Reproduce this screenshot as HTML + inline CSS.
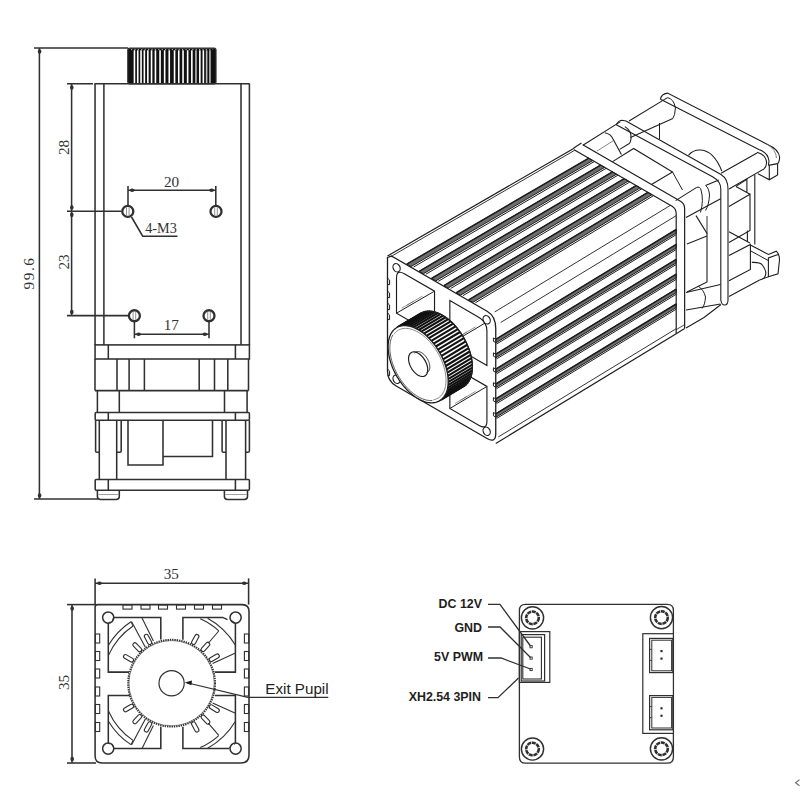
<!DOCTYPE html>
<html><head><meta charset="utf-8"><style>
html,body{margin:0;padding:0;background:#fff;}
svg{display:block;}
</style></head><body>
<svg width="800" height="800" viewBox="0 0 800 800">
<rect width="800" height="800" fill="#fff"/>
<line x1="34.00" y1="48.00" x2="128.00" y2="48.00" stroke="#303030" stroke-width="1.55" />
<line x1="39.40" y1="48.00" x2="39.40" y2="499.00" stroke="#303030" stroke-width="1.55" />
<ellipse cx="39.60" cy="51.50" rx="1.80" ry="2.34" fill="#303030"/>
<ellipse cx="39.60" cy="495.50" rx="1.80" ry="2.34" fill="#303030"/>
<line x1="34.00" y1="499.00" x2="98.00" y2="499.00" stroke="#303030" stroke-width="1.55" />
<text x="34" y="273" font-family="Liberation Serif" font-size="15.2" font-weight="normal" text-anchor="middle" fill="#333" transform="rotate(-90 34 273)" letter-spacing="1.6">99.6</text>
<line x1="67.00" y1="83.75" x2="93.00" y2="83.75" stroke="#303030" stroke-width="1.55" />
<line x1="71.60" y1="83.75" x2="71.60" y2="315.60" stroke="#303030" stroke-width="1.55" />
<ellipse cx="71.80" cy="87.50" rx="1.80" ry="2.34" fill="#303030"/>
<ellipse cx="71.80" cy="207.50" rx="1.80" ry="2.34" fill="#303030"/>
<ellipse cx="71.80" cy="214.80" rx="1.80" ry="2.34" fill="#303030"/>
<ellipse cx="71.80" cy="312.00" rx="1.80" ry="2.34" fill="#303030"/>
<line x1="67.00" y1="211.25" x2="121.50" y2="211.25" stroke="#303030" stroke-width="1.55" />
<line x1="67.00" y1="315.60" x2="128.00" y2="315.60" stroke="#303030" stroke-width="1.55" />
<text x="68.5" y="147.5" font-family="Liberation Serif" font-size="15.2" font-weight="normal" text-anchor="middle" fill="#333" transform="rotate(-90 68.5 147.5)" >28</text>
<text x="68.5" y="262" font-family="Liberation Serif" font-size="15.2" font-weight="normal" text-anchor="middle" fill="#333" transform="rotate(-90 68.5 262)" >23</text>
<rect x="127.80" y="48.20" width="88.20" height="35.60" rx="2" stroke="#303030" stroke-width="1.2" fill="#111"/>
<rect x="133.65" y="50.3" width="1.6" height="33" fill="#fff"/>
<rect x="136.95" y="50.3" width="1.6" height="33" fill="#fff"/>
<rect x="140.25" y="50.3" width="1.6" height="33" fill="#fff"/>
<rect x="143.55" y="50.3" width="1.6" height="33" fill="#fff"/>
<rect x="147.05" y="50.3" width="1.6" height="33" fill="#fff"/>
<rect x="150.75" y="50.3" width="1.6" height="33" fill="#fff"/>
<rect x="154.65" y="50.3" width="1.6" height="33" fill="#fff"/>
<rect x="159.25" y="50.3" width="1.6" height="33" fill="#fff"/>
<rect x="163.85" y="50.3" width="1.6" height="33" fill="#fff"/>
<rect x="168.45" y="50.3" width="1.6" height="33" fill="#fff"/>
<rect x="173.75" y="50.3" width="1.6" height="33" fill="#fff"/>
<rect x="177.95" y="50.3" width="1.6" height="33" fill="#fff"/>
<rect x="182.25" y="50.3" width="1.6" height="33" fill="#fff"/>
<rect x="186.85" y="50.3" width="1.6" height="33" fill="#fff"/>
<rect x="191.05" y="50.3" width="1.6" height="33" fill="#fff"/>
<rect x="195.15" y="50.3" width="1.6" height="33" fill="#bbb"/>
<rect x="199.05" y="50.3" width="1.6" height="33" fill="#fff"/>
<rect x="202.55" y="50.3" width="1.6" height="33" fill="#fff"/>
<rect x="205.85" y="50.3" width="1.6" height="33" fill="#bbb"/>
<rect x="209.15" y="50.3" width="1.6" height="33" fill="#bbb"/>
<line x1="131" y1="49.6" x2="213" y2="49.6" stroke="#fff" stroke-width="0.7" stroke-dasharray="1.2 2.2"/>
<line x1="94.40" y1="83.75" x2="249.70" y2="83.75" stroke="#303030" stroke-width="1.55" />
<line x1="95.05" y1="83.75" x2="95.05" y2="344.90" stroke="#303030" stroke-width="1.55" />
<line x1="249.40" y1="83.75" x2="249.40" y2="344.90" stroke="#303030" stroke-width="1.55" />
<line x1="103.90" y1="83.75" x2="103.90" y2="344.90" stroke="#303030" stroke-width="1.55" />
<line x1="241.00" y1="83.75" x2="241.00" y2="344.90" stroke="#303030" stroke-width="1.55" />
<circle cx="127.80" cy="211.40" r="5.50" stroke="#303030" stroke-width="2.3" fill="none"/>
<line x1="126.50" y1="207.40" x2="126.50" y2="215.40" stroke="#666" stroke-width="0.7" />
<line x1="129.10" y1="207.40" x2="129.10" y2="215.40" stroke="#666" stroke-width="0.7" />
<circle cx="216.00" cy="211.40" r="5.50" stroke="#303030" stroke-width="2.3" fill="none"/>
<line x1="214.70" y1="207.40" x2="214.70" y2="215.40" stroke="#666" stroke-width="0.7" />
<line x1="217.30" y1="207.40" x2="217.30" y2="215.40" stroke="#666" stroke-width="0.7" />
<circle cx="134.40" cy="315.75" r="5.50" stroke="#303030" stroke-width="2.3" fill="none"/>
<line x1="133.10" y1="311.75" x2="133.10" y2="319.75" stroke="#666" stroke-width="0.7" />
<line x1="135.70" y1="311.75" x2="135.70" y2="319.75" stroke="#666" stroke-width="0.7" />
<circle cx="209.00" cy="315.75" r="5.50" stroke="#303030" stroke-width="2.3" fill="none"/>
<line x1="207.70" y1="311.75" x2="207.70" y2="319.75" stroke="#666" stroke-width="0.7" />
<line x1="210.30" y1="311.75" x2="210.30" y2="319.75" stroke="#666" stroke-width="0.7" />
<line x1="128.00" y1="186.00" x2="128.00" y2="205.50" stroke="#303030" stroke-width="1.55" />
<line x1="215.80" y1="186.00" x2="215.80" y2="205.50" stroke="#303030" stroke-width="1.55" />
<line x1="128.00" y1="190.30" x2="215.80" y2="190.30" stroke="#303030" stroke-width="1.55" />
<ellipse cx="132.20" cy="190.30" rx="2.34" ry="1.80" fill="#303030"/>
<ellipse cx="211.60" cy="190.30" rx="2.34" ry="1.80" fill="#303030"/>
<text x="171.5" y="186.7" font-family="Liberation Serif" font-size="15.2" font-weight="normal" text-anchor="middle" fill="#333" >20</text>
<path d="M131.50,217.00 L142.70,236.20 L177.50,236.20" stroke="#303030" stroke-width="1.55" fill="none" />
<text x="161" y="232.7" font-family="Liberation Serif" font-size="14.2" font-weight="normal" text-anchor="middle" fill="#333" >4-M3</text>
<line x1="134.40" y1="322.00" x2="134.40" y2="338.30" stroke="#303030" stroke-width="1.55" />
<line x1="209.00" y1="322.00" x2="209.00" y2="338.30" stroke="#303030" stroke-width="1.55" />
<line x1="134.40" y1="334.20" x2="209.00" y2="334.20" stroke="#303030" stroke-width="1.55" />
<ellipse cx="138.60" cy="334.20" rx="2.34" ry="1.80" fill="#303030"/>
<ellipse cx="204.80" cy="334.20" rx="2.34" ry="1.80" fill="#303030"/>
<text x="171.3" y="329.7" font-family="Liberation Serif" font-size="15.2" font-weight="normal" text-anchor="middle" fill="#333" >17</text>
<rect x="95.05" y="344.90" width="154.35" height="14.10" rx="0" stroke="#303030" stroke-width="1.55" fill="none"/>
<line x1="108.30" y1="344.90" x2="108.30" y2="359.00" stroke="#303030" stroke-width="1.55" />
<line x1="235.40" y1="344.90" x2="235.40" y2="359.00" stroke="#303030" stroke-width="1.55" />
<line x1="95.00" y1="359.00" x2="95.00" y2="390.60" stroke="#303030" stroke-width="1.55" />
<line x1="248.50" y1="359.00" x2="248.50" y2="390.60" stroke="#303030" stroke-width="1.55" />
<line x1="117.00" y1="359.00" x2="117.00" y2="390.60" stroke="#303030" stroke-width="1.55" />
<line x1="129.10" y1="359.00" x2="129.10" y2="390.60" stroke="#303030" stroke-width="1.55" />
<line x1="144.40" y1="359.00" x2="144.40" y2="390.60" stroke="#303030" stroke-width="1.55" />
<line x1="199.20" y1="359.00" x2="199.20" y2="390.60" stroke="#303030" stroke-width="1.55" />
<line x1="214.50" y1="359.00" x2="214.50" y2="390.60" stroke="#303030" stroke-width="1.55" />
<line x1="227.80" y1="359.00" x2="227.80" y2="390.60" stroke="#303030" stroke-width="1.55" />
<line x1="95.00" y1="390.60" x2="248.50" y2="390.60" stroke="#303030" stroke-width="1.55" />
<line x1="97.40" y1="390.60" x2="97.40" y2="412.40" stroke="#303030" stroke-width="1.55" />
<line x1="247.10" y1="390.60" x2="247.10" y2="412.40" stroke="#303030" stroke-width="1.55" />
<line x1="119.30" y1="390.60" x2="119.30" y2="412.40" stroke="#303030" stroke-width="1.55" />
<line x1="224.50" y1="390.60" x2="224.50" y2="412.40" stroke="#303030" stroke-width="1.55" />
<rect x="95.20" y="412.50" width="154.20" height="7.80" rx="1" stroke="#303030" stroke-width="1.55" fill="none"/>
<line x1="108.30" y1="412.50" x2="108.30" y2="420.30" stroke="#303030" stroke-width="1.55" />
<line x1="235.40" y1="412.50" x2="235.40" y2="420.30" stroke="#303030" stroke-width="1.55" />
<path d="M95.6,420.3 V451 Q95.6,452.3 97,452.3 H99.3 M99.3,420.3 V479.5" stroke="#303030" stroke-width="1.55" fill="none" />
<path d="M116.7,479.5 V420.3 M116.7,452.3 H119.8 Q121.2,452.3 121.2,451 V420.3" stroke="#303030" stroke-width="1.55" fill="none" />
<path d="M128.00,420.30 L128.00,465.00 L163.00,465.00 L163.00,420.30" stroke="#303030" stroke-width="1.55" fill="none" />
<path d="M163.00,456.50 L212.50,456.50 L212.50,420.30" stroke="#303030" stroke-width="1.55" fill="none" />
<path d="M226,479.5 V420.3 M226,452.3 H223.4 Q222.1,452.3 222.1,451 V420.3" stroke="#303030" stroke-width="1.55" fill="none" />
<path d="M249.4,420.3 V451 Q249.4,452.3 248,452.3 H245.6 V479.5 M245.6,452.3 V420.3" stroke="#303030" stroke-width="1.55" fill="none" />
<rect x="95.20" y="479.50" width="154.20" height="10.80" rx="1" stroke="#303030" stroke-width="1.55" fill="none"/>
<line x1="108.30" y1="479.50" x2="108.30" y2="490.30" stroke="#303030" stroke-width="1.55" />
<line x1="235.40" y1="479.50" x2="235.40" y2="490.30" stroke="#303030" stroke-width="1.55" />
<path d="M97.4,490.3 V496.5 Q97.4,499.4 100.5,499.4 H116.2 Q119.3,499.4 119.3,496.5 V490.3" stroke="#303030" stroke-width="1.55" fill="none" />
<path d="M224.4,490.3 V496.5 Q224.4,499.4 227.5,499.4 H244.4 Q247.5,499.4 247.5,496.5 V490.3" stroke="#303030" stroke-width="1.55" fill="none" />
<line x1="98.50" y1="494.50" x2="118.30" y2="494.50" stroke="#888" stroke-width="0.8" />
<line x1="225.50" y1="494.50" x2="246.50" y2="494.50" stroke="#888" stroke-width="0.8" />
<line x1="95.10" y1="578.40" x2="95.10" y2="604.60" stroke="#303030" stroke-width="1.55" />
<line x1="248.60" y1="578.40" x2="248.60" y2="604.60" stroke="#303030" stroke-width="1.55" />
<line x1="95.10" y1="583.30" x2="248.60" y2="583.30" stroke="#303030" stroke-width="1.55" />
<ellipse cx="99.50" cy="583.30" rx="2.34" ry="1.80" fill="#303030"/>
<ellipse cx="244.20" cy="583.30" rx="2.34" ry="1.80" fill="#303030"/>
<text x="171.3" y="579.3" font-family="Liberation Serif" font-size="15.2" font-weight="normal" text-anchor="middle" fill="#333" >35</text>
<line x1="67.00" y1="604.60" x2="96.00" y2="604.60" stroke="#303030" stroke-width="1.55" />
<line x1="67.00" y1="763.00" x2="96.00" y2="763.00" stroke="#303030" stroke-width="1.55" />
<line x1="72.00" y1="604.60" x2="72.00" y2="763.00" stroke="#303030" stroke-width="1.55" />
<ellipse cx="72.20" cy="608.50" rx="1.80" ry="2.34" fill="#303030"/>
<ellipse cx="72.20" cy="759.00" rx="1.80" ry="2.34" fill="#303030"/>
<text x="68.5" y="682.5" font-family="Liberation Serif" font-size="15.2" font-weight="normal" text-anchor="middle" fill="#333" transform="rotate(-90 68.5 682.5)" >35</text>
<path d="M95.1,607 Q95.1,604.6 97.5,604.6 H242.2 Q249,604.6 249,611.4 V755 Q249,763 241,763 H102.1 Q95.1,763 95.1,756 Z" stroke="#303030" stroke-width="1.55" fill="none" />
<rect x="123.00" y="604.90" width="9.00" height="4.20" rx="0" stroke="#303030" stroke-width="1.1" fill="none"/>
<rect x="141.00" y="604.90" width="9.00" height="4.20" rx="0" stroke="#303030" stroke-width="1.1" fill="none"/>
<rect x="158.50" y="604.90" width="9.00" height="4.20" rx="0" stroke="#303030" stroke-width="1.1" fill="none"/>
<rect x="176.50" y="604.90" width="9.00" height="4.20" rx="0" stroke="#303030" stroke-width="1.1" fill="none"/>
<rect x="194.50" y="604.90" width="9.00" height="4.20" rx="0" stroke="#303030" stroke-width="1.1" fill="none"/>
<rect x="212.50" y="604.90" width="9.00" height="4.20" rx="0" stroke="#303030" stroke-width="1.1" fill="none"/>
<rect x="95.40" y="634.00" width="4.30" height="9.00" rx="0" stroke="#303030" stroke-width="1.1" fill="none"/>
<rect x="244.40" y="634.00" width="4.30" height="9.00" rx="0" stroke="#303030" stroke-width="1.1" fill="none"/>
<rect x="95.40" y="651.50" width="4.30" height="9.00" rx="0" stroke="#303030" stroke-width="1.1" fill="none"/>
<rect x="244.40" y="651.50" width="4.30" height="9.00" rx="0" stroke="#303030" stroke-width="1.1" fill="none"/>
<rect x="95.40" y="669.00" width="4.30" height="9.00" rx="0" stroke="#303030" stroke-width="1.1" fill="none"/>
<rect x="244.40" y="669.00" width="4.30" height="9.00" rx="0" stroke="#303030" stroke-width="1.1" fill="none"/>
<rect x="95.40" y="687.00" width="4.30" height="9.00" rx="0" stroke="#303030" stroke-width="1.1" fill="none"/>
<rect x="244.40" y="687.00" width="4.30" height="9.00" rx="0" stroke="#303030" stroke-width="1.1" fill="none"/>
<rect x="95.40" y="704.50" width="4.30" height="9.00" rx="0" stroke="#303030" stroke-width="1.1" fill="none"/>
<rect x="244.40" y="704.50" width="4.30" height="9.00" rx="0" stroke="#303030" stroke-width="1.1" fill="none"/>
<rect x="95.40" y="722.50" width="4.30" height="9.00" rx="0" stroke="#303030" stroke-width="1.1" fill="none"/>
<rect x="244.40" y="722.50" width="4.30" height="9.00" rx="0" stroke="#303030" stroke-width="1.1" fill="none"/>
<circle cx="108.20" cy="617.60" r="5.60" stroke="#303030" stroke-width="1.5" fill="none"/>
<circle cx="235.60" cy="617.60" r="5.60" stroke="#303030" stroke-width="1.5" fill="none"/>
<circle cx="108.20" cy="748.60" r="5.60" stroke="#303030" stroke-width="1.5" fill="none"/>
<circle cx="235.60" cy="748.60" r="5.60" stroke="#303030" stroke-width="1.5" fill="none"/>
<path d="M113,617.4 H160.8 V639.5" stroke="#303030" stroke-width="1.55" fill="none" />
<path d="M108.3,623 V672.1 H129" stroke="#303030" stroke-width="1.55" fill="none" />
<path d="M182.9,639.7 V617.4 H222.7 L227.5,619.6" stroke="#303030" stroke-width="1.55" fill="none" />
<path d="M235.4,623 V672.1 H214.8" stroke="#303030" stroke-width="1.55" fill="none" />
<path d="M108.3,743.4 V695.4 H129.8" stroke="#303030" stroke-width="1.55" fill="none" />
<path d="M160.8,726.7 V748.4 H114" stroke="#303030" stroke-width="1.55" fill="none" />
<path d="M182.9,726.7 V748.4 H229" stroke="#303030" stroke-width="1.55" fill="none" />
<path d="M235.4,743.4 V695.4 H214.8" stroke="#303030" stroke-width="1.55" fill="none" />
<circle cx="171.6" cy="683.2" r="43.4" stroke="#303030" stroke-width="2.0" fill="none" stroke-dasharray="1.4 0.9"/>
<circle cx="171.60" cy="683.20" r="42.60" stroke="#555" stroke-width="0.6" fill="none"/>
<circle cx="171.60" cy="683.20" r="12.60" stroke="#303030" stroke-width="1.2" fill="none"/>
<rect x="215.80" y="681.20" width="11" height="4" rx="2" stroke="#303030" stroke-width="1.1" fill="#fff" transform="rotate(-150 171.6 683.2)"/>
<rect x="215.80" y="681.20" width="11" height="4" rx="2" stroke="#303030" stroke-width="1.1" fill="#fff" transform="rotate(-133.7 171.6 683.2)"/>
<rect x="215.80" y="681.20" width="11" height="4" rx="2" stroke="#303030" stroke-width="1.1" fill="#fff" transform="rotate(-118.3 171.6 683.2)"/>
<rect x="215.80" y="681.20" width="11" height="4" rx="2" stroke="#303030" stroke-width="1.1" fill="#fff" transform="rotate(-61.6 171.6 683.2)"/>
<rect x="215.80" y="681.20" width="11" height="4" rx="2" stroke="#303030" stroke-width="1.1" fill="#fff" transform="rotate(-47 171.6 683.2)"/>
<rect x="215.80" y="681.20" width="11" height="4" rx="2" stroke="#303030" stroke-width="1.1" fill="#fff" transform="rotate(-30.8 171.6 683.2)"/>
<rect x="215.80" y="681.20" width="11" height="4" rx="2" stroke="#303030" stroke-width="1.1" fill="#fff" transform="rotate(30.8 171.6 683.2)"/>
<rect x="215.80" y="681.20" width="11" height="4" rx="2" stroke="#303030" stroke-width="1.1" fill="#fff" transform="rotate(47 171.6 683.2)"/>
<rect x="215.80" y="681.20" width="11" height="4" rx="2" stroke="#303030" stroke-width="1.1" fill="#fff" transform="rotate(61.6 171.6 683.2)"/>
<rect x="215.80" y="681.20" width="11" height="4" rx="2" stroke="#303030" stroke-width="1.1" fill="#fff" transform="rotate(118.3 171.6 683.2)"/>
<rect x="215.80" y="681.20" width="11" height="4" rx="2" stroke="#303030" stroke-width="1.1" fill="#fff" transform="rotate(133.7 171.6 683.2)"/>
<rect x="215.80" y="681.20" width="11" height="4" rx="2" stroke="#303030" stroke-width="1.1" fill="#fff" transform="rotate(150 171.6 683.2)"/>
<path d="M108.43,645.24 A73.7,73.7 0 0 1 130.92,621.74" stroke="#303030" stroke-width="1.1" fill="none" />
<path d="M108.57,655.14 A69,69 0 0 1 133.02,626.00" stroke="#303030" stroke-width="1.1" fill="none" />
<path d="M130.92,621.74 L133.02,626.00" stroke="#303030" stroke-width="1.0" fill="none" />
<path d="M131.50,621.40 L145.50,647.60" stroke="#303030" stroke-width="1.1" fill="none" />
<path d="M142.00,617.90 L153.40,641.00" stroke="#303030" stroke-width="1.1" fill="none" />
<path d="M207.62,618.22 A74.3,74.3 0 0 1 235.29,644.93" stroke="#303030" stroke-width="1.1" fill="none" />
<path d="M200.27,618.80 A70.5,70.5 0 0 1 218.77,630.81" stroke="#303030" stroke-width="1.1" fill="none" />
<path d="M218.75,631.00 L208.25,643.25" stroke="#303030" stroke-width="1.1" fill="none" />
<path d="M234.90,653.30 L212.60,663.40" stroke="#303030" stroke-width="1.1" fill="none" />
<path d="M108.43,721.16 A73.7,73.7 0 0 0 130.92,744.66" stroke="#303030" stroke-width="1.1" fill="none" />
<path d="M108.57,711.26 A69,69 0 0 0 133.02,740.40" stroke="#303030" stroke-width="1.1" fill="none" />
<path d="M130.92,744.66 L133.02,740.40" stroke="#303030" stroke-width="1.0" fill="none" />
<path d="M131.50,745.00 L145.50,718.80" stroke="#303030" stroke-width="1.1" fill="none" />
<path d="M142.00,748.50 L153.40,725.40" stroke="#303030" stroke-width="1.1" fill="none" />
<path d="M207.62,748.18 A74.3,74.3 0 0 0 235.29,721.47" stroke="#303030" stroke-width="1.1" fill="none" />
<path d="M200.27,747.60 A70.5,70.5 0 0 0 218.77,735.59" stroke="#303030" stroke-width="1.1" fill="none" />
<path d="M218.75,735.40 L208.25,723.15" stroke="#303030" stroke-width="1.1" fill="none" />
<path d="M234.90,713.10 L212.60,703.00" stroke="#303030" stroke-width="1.1" fill="none" />
<path d="M112.50,620.50 L113.50,617.40" stroke="#303030" stroke-width="1.0" fill="none" />
<path d="M108.30,623.00 L109.50,622.00" stroke="#303030" stroke-width="1.0" fill="none" />
<path d="M231.00,620.20 L235.40,623.00" stroke="#303030" stroke-width="1.0" fill="none" />
<path d="M112.50,745.50 L114.00,748.40" stroke="#303030" stroke-width="1.0" fill="none" />
<path d="M108.30,743.40 L109.50,744.00" stroke="#303030" stroke-width="1.0" fill="none" />
<path d="M231.00,746.00 L229.00,748.40" stroke="#303030" stroke-width="1.0" fill="none" />
<path d="M235.40,743.40 L234.00,744.50" stroke="#303030" stroke-width="1.0" fill="none" />
<path d="M328.30,697.40 L247.75,697.40 L187.00,682.80" stroke="#303030" stroke-width="1.1" fill="none" />
<path d="M184.8,682.5 L192,680.6 L191.4,685.2 Z" fill="#1a1a1a"/>
<text x="265.3" y="693.8" font-family="Liberation Sans" font-size="15.2" font-weight="normal" text-anchor="start" fill="#222" >Exit Pupil</text>
<path d="M519.4,610.5 Q519.4,604.4 525.5,604.4 H667.3 Q673.4,604.4 673.4,610.5 V757 Q673.4,763.2 667.3,763.2 H525.5 Q519.4,763.2 519.4,757 Z" stroke="#303030" stroke-width="1.3" fill="none" />
<circle cx="532.50" cy="617.80" r="11.10" stroke="#303030" stroke-width="1.45" fill="none"/>
<circle cx="532.5" cy="617.8" r="6.3" stroke="#303030" stroke-width="2.6" fill="none" stroke-dasharray="4 0.7"/>
<circle cx="661.50" cy="617.60" r="11.10" stroke="#303030" stroke-width="1.45" fill="none"/>
<circle cx="661.5" cy="617.6" r="6.3" stroke="#303030" stroke-width="2.6" fill="none" stroke-dasharray="4 0.7"/>
<circle cx="532.50" cy="749.00" r="11.10" stroke="#303030" stroke-width="1.45" fill="none"/>
<circle cx="532.5" cy="749" r="6.3" stroke="#303030" stroke-width="2.6" fill="none" stroke-dasharray="4 0.7"/>
<circle cx="661.50" cy="748.80" r="11.10" stroke="#303030" stroke-width="1.45" fill="none"/>
<circle cx="661.5" cy="748.8" r="6.3" stroke="#303030" stroke-width="2.6" fill="none" stroke-dasharray="4 0.7"/>
<rect x="519.40" y="631.60" width="30.40" height="50.80" rx="0" stroke="#303030" stroke-width="1.2" fill="#fff"/>
<rect x="521.20" y="634.60" width="23.40" height="46.40" rx="0" stroke="#303030" stroke-width="1.2" fill="none"/>
<rect x="522.80" y="637.20" width="18.60" height="41.80" rx="0" stroke="#303030" stroke-width="1.1" fill="none"/>
<rect x="530.00" y="645.60" width="2.20" height="2.20" rx="0" stroke="#303030" stroke-width="0.9" fill="none"/>
<rect x="530.00" y="657.00" width="2.20" height="2.20" rx="0" stroke="#303030" stroke-width="0.9" fill="none"/>
<rect x="530.00" y="668.40" width="2.20" height="2.20" rx="0" stroke="#303030" stroke-width="0.9" fill="none"/>
<rect x="642.80" y="633.70" width="30.60" height="99.70" rx="0" stroke="#303030" stroke-width="1.2" fill="#fff"/>
<rect x="649.60" y="638.40" width="23.20" height="34.20" rx="0" stroke="#303030" stroke-width="1.2" fill="none"/>
<rect x="651.80" y="640.20" width="19.80" height="30.60" rx="0" stroke="#303030" stroke-width="1.0" fill="none"/>
<line x1="649.60" y1="649.40" x2="651.80" y2="649.40" stroke="#303030" stroke-width="0.9" />
<line x1="649.60" y1="660.40" x2="651.80" y2="660.40" stroke="#303030" stroke-width="0.9" />
<rect x="660.40" y="650.00" width="2.20" height="2.20" rx="0" stroke="#303030" stroke-width="0" fill="#303030"/>
<rect x="660.40" y="657.50" width="2.20" height="2.20" rx="0" stroke="#303030" stroke-width="0" fill="#303030"/>
<rect x="649.60" y="695.60" width="23.20" height="34.20" rx="0" stroke="#303030" stroke-width="1.2" fill="none"/>
<rect x="651.80" y="697.40" width="19.80" height="30.60" rx="0" stroke="#303030" stroke-width="1.0" fill="none"/>
<line x1="649.60" y1="706.60" x2="651.80" y2="706.60" stroke="#303030" stroke-width="0.9" />
<line x1="649.60" y1="717.60" x2="651.80" y2="717.60" stroke="#303030" stroke-width="0.9" />
<rect x="660.40" y="707.20" width="2.20" height="2.20" rx="0" stroke="#303030" stroke-width="0" fill="#303030"/>
<rect x="660.40" y="714.70" width="2.20" height="2.20" rx="0" stroke="#303030" stroke-width="0" fill="#303030"/>
<text x="482" y="608.4" font-family="Liberation Sans" font-size="12.4" font-weight="bold" text-anchor="end" fill="#1e1e1e" >DC 12V</text>
<text x="482" y="632.4" font-family="Liberation Sans" font-size="12.4" font-weight="bold" text-anchor="end" fill="#1e1e1e" >GND</text>
<text x="483" y="661.4" font-family="Liberation Sans" font-size="12.4" font-weight="bold" text-anchor="end" fill="#1e1e1e" >5V PWM</text>
<text x="481" y="701" font-family="Liberation Sans" font-size="12.4" font-weight="bold" text-anchor="end" fill="#1e1e1e" >XH2.54 3PIN</text>
<path d="M488.00,604.40 L500.00,604.40 L530.50,646.00" stroke="#303030" stroke-width="1.3" fill="none" />
<path d="M488.00,627.00 L500.00,627.00 L530.50,657.50" stroke="#303030" stroke-width="1.3" fill="none" />
<path d="M488.00,658.00 L501.00,658.00 L530.50,669.00" stroke="#303030" stroke-width="1.3" fill="none" />
<path d="M488.00,697.60 L498.00,697.60 L518.50,678.00" stroke="#303030" stroke-width="1.3" fill="none" />
<path d="M799.5,779.8 L795.6,782.8 L799.5,785.8" stroke="#777" stroke-width="1.3" fill="none"/>
<path d="M387.50,256.00 L572.82,149.00" stroke="#1e1e1e" stroke-width="1.2" fill="none" />
<path d="M392.26,255.75 L574.89,150.19" stroke="#1e1e1e" stroke-width="0.9" fill="none" />
<path d="M495.75,443.50 L676.20,333.69" stroke="#1e1e1e" stroke-width="1.2" fill="none" />
<path d="M498.28,436.96 L676.20,328.69" stroke="#1e1e1e" stroke-width="0.9" fill="none" />
<path d="M494.76,311.93 L670.41,205.34" stroke="#1e1e1e" stroke-width="0.9" fill="none" />
<path d="M500.81,322.42 L676.20,215.69" stroke="#1e1e1e" stroke-width="0.9" fill="none" />
<path d="M406.80,264.14 L588.79,158.22 L592.84,160.56 L411.04,266.59 Z" stroke="#1e1e1e" stroke-width="1.0" fill="#6e6e6e" />
<path d="M406.80,264.14 L588.79,158.22" stroke="#1e1e1e" stroke-width="1.5" fill="none" />
<path d="M413.55,267.04 L594.41,161.46" stroke="#1e1e1e" stroke-width="1.0" fill="none" />
<path d="M419.18,271.29 L600.61,165.04 L604.66,167.38 L423.42,273.74 Z" stroke="#1e1e1e" stroke-width="1.0" fill="#6e6e6e" />
<path d="M419.18,271.29 L600.61,165.04" stroke="#1e1e1e" stroke-width="1.5" fill="none" />
<path d="M425.92,274.18 L606.24,168.29" stroke="#1e1e1e" stroke-width="1.0" fill="none" />
<path d="M431.55,278.43 L612.44,171.87 L616.49,174.21 L435.79,280.88 Z" stroke="#1e1e1e" stroke-width="1.0" fill="#6e6e6e" />
<path d="M431.55,278.43 L612.44,171.87" stroke="#1e1e1e" stroke-width="1.5" fill="none" />
<path d="M438.29,281.33 L618.06,175.12" stroke="#1e1e1e" stroke-width="1.0" fill="none" />
<path d="M443.93,285.58 L624.27,178.70 L628.32,181.04 L448.17,288.03 Z" stroke="#1e1e1e" stroke-width="1.0" fill="#6e6e6e" />
<path d="M443.93,285.58 L624.27,178.70" stroke="#1e1e1e" stroke-width="1.5" fill="none" />
<path d="M450.67,288.47 L629.89,181.95" stroke="#1e1e1e" stroke-width="1.0" fill="none" />
<path d="M456.31,292.73 L636.09,185.53 L640.14,187.87 L460.55,295.17 Z" stroke="#1e1e1e" stroke-width="1.0" fill="#6e6e6e" />
<path d="M456.31,292.73 L636.09,185.53" stroke="#1e1e1e" stroke-width="1.5" fill="none" />
<path d="M463.04,295.61 L641.72,188.78" stroke="#1e1e1e" stroke-width="1.0" fill="none" />
<path d="M468.68,299.87 L647.92,192.36 L651.97,194.70 L472.92,302.32 Z" stroke="#1e1e1e" stroke-width="1.0" fill="#6e6e6e" />
<path d="M468.68,299.87 L647.92,192.36" stroke="#1e1e1e" stroke-width="1.5" fill="none" />
<path d="M475.41,302.76 L653.54,195.60" stroke="#1e1e1e" stroke-width="1.0" fill="none" />
<path d="M495.75,339.30 L676.20,229.49 L676.20,233.09 L495.75,342.90 Z" stroke="#1e1e1e" stroke-width="1.0" fill="#6e6e6e" />
<path d="M495.75,339.30 L676.20,229.49" stroke="#1e1e1e" stroke-width="1.5" fill="none" />
<path d="M496.59,343.99 L676.20,234.69" stroke="#1e1e1e" stroke-width="1.0" fill="none" />
<path d="M495.75,354.20 L676.20,244.39 L676.20,247.99 L495.75,357.80 Z" stroke="#1e1e1e" stroke-width="1.0" fill="#6e6e6e" />
<path d="M495.75,354.20 L676.20,244.39" stroke="#1e1e1e" stroke-width="1.5" fill="none" />
<path d="M496.59,358.89 L676.20,249.59" stroke="#1e1e1e" stroke-width="1.0" fill="none" />
<path d="M495.75,369.10 L676.20,259.29 L676.20,262.89 L495.75,372.70 Z" stroke="#1e1e1e" stroke-width="1.0" fill="#6e6e6e" />
<path d="M495.75,369.10 L676.20,259.29" stroke="#1e1e1e" stroke-width="1.5" fill="none" />
<path d="M496.59,373.79 L676.20,264.49" stroke="#1e1e1e" stroke-width="1.0" fill="none" />
<path d="M495.75,384.00 L676.20,274.19 L676.20,277.79 L495.75,387.60 Z" stroke="#1e1e1e" stroke-width="1.0" fill="#6e6e6e" />
<path d="M495.75,384.00 L676.20,274.19" stroke="#1e1e1e" stroke-width="1.5" fill="none" />
<path d="M496.59,388.69 L676.20,279.39" stroke="#1e1e1e" stroke-width="1.0" fill="none" />
<path d="M495.75,398.90 L676.20,289.09 L676.20,292.69 L495.75,402.50 Z" stroke="#1e1e1e" stroke-width="1.0" fill="#6e6e6e" />
<path d="M495.75,398.90 L676.20,289.09" stroke="#1e1e1e" stroke-width="1.5" fill="none" />
<path d="M496.59,403.59 L676.20,294.29" stroke="#1e1e1e" stroke-width="1.0" fill="none" />
<path d="M495.75,413.80 L676.20,303.99 L676.20,307.59 L495.75,417.40 Z" stroke="#1e1e1e" stroke-width="1.0" fill="#6e6e6e" />
<path d="M495.75,413.80 L676.20,303.99" stroke="#1e1e1e" stroke-width="1.5" fill="none" />
<path d="M496.59,418.49 L676.20,309.19" stroke="#1e1e1e" stroke-width="1.0" fill="none" />
<path d="M387.50,257.50 L391.40,256.05 L487.09,311.30 Q495.75,316.30 495.75,328.50 L495.75,433.50 Q495.75,443.50 487.09,438.50 L396.16,386.00 Q387.50,381.00 387.50,371.00 Z" stroke="#1e1e1e" stroke-width="1.3" fill="#fff" />
<path d="M387.50,278.00 L389.58,280.00 L389.58,284.70 L387.50,284.30" stroke="#1e1e1e" stroke-width="1.0" fill="none" />
<path d="M387.50,291.00 L389.58,293.00 L389.58,297.70 L387.50,297.30" stroke="#1e1e1e" stroke-width="1.0" fill="none" />
<path d="M387.50,303.00 L389.58,305.00 L389.58,309.70 L387.50,309.30" stroke="#1e1e1e" stroke-width="1.0" fill="none" />
<path d="M387.50,313.00 L389.58,315.00 L389.58,319.70 L387.50,319.30" stroke="#1e1e1e" stroke-width="1.0" fill="none" />
<path d="M387.50,369.00 L389.58,371.00 L389.58,375.70 L387.50,375.30" stroke="#1e1e1e" stroke-width="1.0" fill="none" />
<path d="M495.75,339.30 L493.41,337.95 L493.41,341.25 L495.75,342.60" stroke="#1e1e1e" stroke-width="1.0" fill="none" />
<path d="M495.75,354.20 L493.41,352.85 L493.41,356.15 L495.75,357.50" stroke="#1e1e1e" stroke-width="1.0" fill="none" />
<path d="M495.75,369.10 L493.41,367.75 L493.41,371.05 L495.75,372.40" stroke="#1e1e1e" stroke-width="1.0" fill="none" />
<path d="M495.75,384.00 L493.41,382.65 L493.41,385.95 L495.75,387.30" stroke="#1e1e1e" stroke-width="1.0" fill="none" />
<path d="M495.75,398.90 L493.41,397.55 L493.41,400.85 L495.75,402.20" stroke="#1e1e1e" stroke-width="1.0" fill="none" />
<path d="M495.75,413.80 L493.41,412.45 L493.41,415.75 L495.75,417.10" stroke="#1e1e1e" stroke-width="1.0" fill="none" />
<path d="M396.51,278.20 Q396.51,269.20 404.30,273.70 L434.52,291.15 L434.52,335.15 L396.51,313.20 Z" stroke="#1e1e1e" stroke-width="1.15" fill="none" />
<path d="M396.51,313.20 L433.77,291.59" stroke="#1e1e1e" stroke-width="1.0" fill="none" />
<path d="M401.70,308.20 L413.78,301.18" stroke="#666" stroke-width="0.7" fill="none" />
<path d="M406.90,305.20 L422.41,296.16" stroke="#666" stroke-width="0.7" fill="none" />
<path d="M449.85,300.50 L479.12,317.40 Q486.92,321.90 486.92,330.90 L486.92,365.40 L449.85,344.00 Z" stroke="#1e1e1e" stroke-width="1.15" fill="none" />
<path d="M449.85,344.00 L486.21,322.36" stroke="#1e1e1e" stroke-width="1.0" fill="none" />
<path d="M455.05,339.00 L466.97,331.89" stroke="#666" stroke-width="0.7" fill="none" />
<path d="M460.24,336.00 L475.56,326.84" stroke="#666" stroke-width="0.7" fill="none" />
<path d="M396.51,334.20 L434.52,356.15 L434.52,399.65 L404.30,382.20 Q396.51,377.70 396.51,368.70 Z" stroke="#1e1e1e" stroke-width="1.15" fill="none" />
<path d="M396.51,377.70 L433.34,356.34" stroke="#1e1e1e" stroke-width="1.0" fill="none" />
<path d="M401.70,372.70 L413.78,365.68" stroke="#666" stroke-width="0.7" fill="none" />
<path d="M406.90,369.70 L422.41,360.66" stroke="#666" stroke-width="0.7" fill="none" />
<path d="M449.85,365.00 L486.92,386.40 L486.92,420.90 Q486.92,429.90 479.12,425.40 L449.85,408.50 Z" stroke="#1e1e1e" stroke-width="1.15" fill="none" />
<path d="M449.85,408.50 L486.21,386.86" stroke="#1e1e1e" stroke-width="1.0" fill="none" />
<path d="M455.05,403.50 L466.97,396.39" stroke="#666" stroke-width="0.7" fill="none" />
<path d="M460.24,400.50 L475.56,391.34" stroke="#666" stroke-width="0.7" fill="none" />
<ellipse cx="396.59" cy="267.75" rx="3.4" ry="4.4" transform="rotate(-25 396.59 267.75)" stroke="#1e1e1e" stroke-width="1.2" fill="#fff"/>
<ellipse cx="486.66" cy="319.75" rx="3.4" ry="4.4" transform="rotate(-25 486.66 319.75)" stroke="#1e1e1e" stroke-width="1.2" fill="#fff"/>
<ellipse cx="396.59" cy="379.25" rx="3.4" ry="4.4" transform="rotate(-25 396.59 379.25)" stroke="#1e1e1e" stroke-width="1.2" fill="#fff"/>
<ellipse cx="486.66" cy="431.25" rx="3.4" ry="4.4" transform="rotate(-25 486.66 431.25)" stroke="#1e1e1e" stroke-width="1.2" fill="#fff"/>
<path d="M396.89,327.52 L397.26,327.32 L397.64,327.12 L398.03,326.94 L398.42,326.77 L398.82,326.61 L399.22,326.46 L399.64,326.32 L400.05,326.19 L400.47,326.08 L400.90,325.98 L401.33,325.88 L401.77,325.80 L402.21,325.74 L402.66,325.68 L403.11,325.64 L403.57,325.60 L404.03,325.58 L404.49,325.57 L404.96,325.57 L405.44,325.59 L405.91,325.61 L406.40,325.65 L406.88,325.70 L407.37,325.76 L407.86,325.84 L408.35,325.92 L408.85,326.02 L409.35,326.12 L409.85,326.24 L410.36,326.37 L410.87,326.52 L411.38,326.67 L411.89,326.84 L412.40,327.01 L412.92,327.20 L413.44,327.40 L413.96,327.61 L414.48,327.83 L415.00,328.07 L415.52,328.31 L416.04,328.56 L416.57,328.83 L417.09,329.11 L417.62,329.39 L418.14,329.69 L418.66,330.00 L419.19,330.32 L419.71,330.65 L420.24,330.98 L420.76,331.33 L421.28,331.69 L421.80,332.06 L422.32,332.44 L422.84,332.83 L423.36,333.23 L423.87,333.64 L424.39,334.05 L424.90,334.48 L425.41,334.91 L425.92,335.36 L426.42,335.81 L426.93,336.27 L427.43,336.74 L427.92,337.22 L428.42,337.71 L428.91,338.20 L429.40,338.70 L429.88,339.21 L430.36,339.73 L430.84,340.26 L431.32,340.79 L431.78,341.33 L432.25,341.88 L432.71,342.43 L433.17,342.99 L433.62,343.56 L434.07,344.13 L434.51,344.71 L434.95,345.29 L435.38,345.88 L435.81,346.48 L436.23,347.08 L436.64,347.69 L437.05,348.30 L437.46,348.92 L437.86,349.54 L438.25,350.16 L438.64,350.79 L439.02,351.43 L439.39,352.07 L439.76,352.71 L440.12,353.35 L440.48,354.00 L440.82,354.65 L441.16,355.31 L441.50,355.96 L441.82,356.62 L442.14,357.29 L442.46,357.95 L442.76,358.62 L443.06,359.28 L443.35,359.95 L443.63,360.62 L443.90,361.30 L444.17,361.97 L444.43,362.64 L444.68,363.32 L444.92,363.99 L445.15,364.66 L445.38,365.34 L445.60,366.01 L445.81,366.68 L446.01,367.36 L446.20,368.03 L446.38,368.70 L446.56,369.37 L446.72,370.03 L446.88,370.70 L447.03,371.36 L447.17,372.02 L447.30,372.68 L447.43,373.34 L447.54,373.99 L447.64,374.64 L447.74,375.29 L447.83,375.93 L447.90,376.57 L447.97,377.21 L448.03,377.84 L448.08,378.47 L448.12,379.09 L448.15,379.71 L448.18,380.33 L448.19,380.94 L448.20,381.54 L448.19,382.14 L448.18,382.74 L448.15,383.33 L448.12,383.91 L448.08,384.48 L448.03,385.05 L447.97,385.62 L447.90,386.18 L447.83,386.73 L447.74,387.27 L447.64,387.81 L447.54,388.34 L447.43,388.86 L447.30,389.37 L447.17,389.88 L447.03,390.38 L446.88,390.87 L446.72,391.36 L446.56,391.83 L446.38,392.30 L446.20,392.75 L446.01,393.20 L445.81,393.64 L445.60,394.08 L445.38,394.50 L445.15,394.91 L444.92,395.31 L444.68,395.71 L444.43,396.09 L444.17,396.47 L443.90,396.83 L443.63,397.19 L443.35,397.53 L443.06,397.87 L442.76,398.19 L442.46,398.51 L442.14,398.81 L441.82,399.11 L441.50,399.39 L441.16,399.66 L440.82,399.92 L440.48,400.17 L440.12,400.41 L439.76,400.64 L439.39,400.86 L463.62,386.34 L463.98,386.12 L464.34,385.89 L464.69,385.65 L465.04,385.40 L465.38,385.14 L465.71,384.87 L466.03,384.58 L466.35,384.29 L466.66,383.98 L466.96,383.67 L467.26,383.34 L467.55,383.01 L467.83,382.66 L468.10,382.30 L468.37,381.94 L468.62,381.56 L468.87,381.18 L469.11,380.78 L469.34,380.38 L469.57,379.96 L469.78,379.54 L469.99,379.11 L470.19,378.67 L470.38,378.22 L470.57,377.76 L470.74,377.29 L470.91,376.82 L471.06,376.33 L471.21,375.84 L471.35,375.34 L471.48,374.83 L471.60,374.32 L471.72,373.80 L471.82,373.27 L471.91,372.73 L472.00,372.18 L472.08,371.63 L472.15,371.08 L472.20,370.51 L472.25,369.94 L472.30,369.36 L472.33,368.78 L472.35,368.19 L472.36,367.60 L472.37,367.00 L472.36,366.40 L472.35,365.79 L472.33,365.17 L472.30,364.55 L472.25,363.93 L472.20,363.30 L472.15,362.67 L472.08,362.03 L472.00,361.39 L471.91,360.75 L471.82,360.10 L471.72,359.45 L471.60,358.80 L471.48,358.14 L471.35,357.48 L471.21,356.82 L471.06,356.16 L470.91,355.49 L470.74,354.83 L470.57,354.16 L470.38,353.49 L470.19,352.82 L469.99,352.15 L469.78,351.48 L469.57,350.80 L469.34,350.13 L469.11,349.46 L468.87,348.78 L468.62,348.11 L468.37,347.44 L468.10,346.77 L467.83,346.10 L467.55,345.43 L467.26,344.76 L466.96,344.09 L466.66,343.43 L466.35,342.76 L466.03,342.10 L465.71,341.44 L465.38,340.79 L465.04,340.13 L464.69,339.48 L464.34,338.84 L463.98,338.19 L463.62,337.55 L463.25,336.92 L462.87,336.28 L462.48,335.65 L462.09,335.03 L461.70,334.41 L461.29,333.79 L460.89,333.18 L460.47,332.58 L460.05,331.98 L459.63,331.38 L459.20,330.79 L458.76,330.21 L458.32,329.63 L457.88,329.06 L457.43,328.50 L456.98,327.94 L456.52,327.39 L456.05,326.84 L455.59,326.30 L455.12,325.77 L454.64,325.25 L454.16,324.73 L453.68,324.22 L453.20,323.72 L452.71,323.23 L452.22,322.75 L451.72,322.27 L451.23,321.80 L450.73,321.34 L450.22,320.89 L449.72,320.45 L449.21,320.01 L448.70,319.59 L448.19,319.18 L447.68,318.77 L447.16,318.37 L446.65,317.99 L446.13,317.61 L445.61,317.24 L445.09,316.88 L444.58,316.54 L444.05,316.20 L443.53,315.87 L443.01,315.56 L442.49,315.25 L441.97,314.95 L441.45,314.67 L440.93,314.39 L440.41,314.13 L439.89,313.88 L439.37,313.64 L438.85,313.40 L438.33,313.19 L437.82,312.98 L437.30,312.78 L436.79,312.59 L436.28,312.42 L435.77,312.25 L435.26,312.10 L434.76,311.96 L434.26,311.83 L433.76,311.71 L433.26,311.61 L432.76,311.51 L432.27,311.43 L431.78,311.36 L431.30,311.30 L430.82,311.25 L430.34,311.22 L429.86,311.19 L429.39,311.18 L428.93,311.18 L428.46,311.19 L428.01,311.21 L427.55,311.25 L427.10,311.29 L426.66,311.35 L426.22,311.42 L425.78,311.50 L425.35,311.60 L424.93,311.70 L424.51,311.82 L424.10,311.94 L423.69,312.08 L423.29,312.23 L422.89,312.40 L422.50,312.57 L422.11,312.75 L421.74,312.95 L421.36,313.16 Z" stroke="#1e1e1e" stroke-width="1.1" fill="#fff" />
<path d="M397.26,327.32 L421.74,312.95" stroke="#111" stroke-width="2.1" fill="none" />
<path d="M399.22,326.46 L423.69,312.08" stroke="#111" stroke-width="2.1" fill="none" />
<path d="M401.33,325.88 L425.78,311.50" stroke="#111" stroke-width="2.1" fill="none" />
<path d="M403.57,325.60 L428.01,311.21" stroke="#111" stroke-width="2.1" fill="none" />
<path d="M405.91,325.61 L430.34,311.22" stroke="#111" stroke-width="2.1" fill="none" />
<path d="M408.35,325.92 L432.76,311.51" stroke="#111" stroke-width="2.1" fill="none" />
<path d="M410.87,326.52 L435.26,312.10" stroke="#111" stroke-width="2.1" fill="none" />
<path d="M413.44,327.40 L437.82,312.98" stroke="#111" stroke-width="2.1" fill="none" />
<path d="M416.04,328.56 L440.41,314.13" stroke="#111" stroke-width="2.1" fill="none" />
<path d="M418.66,330.00 L443.01,315.56" stroke="#111" stroke-width="2.1" fill="none" />
<path d="M421.28,331.69 L445.61,317.24" stroke="#111" stroke-width="2.1" fill="none" />
<path d="M423.87,333.64 L448.19,319.18" stroke="#111" stroke-width="2.1" fill="none" />
<path d="M426.42,335.81 L450.73,321.34" stroke="#111" stroke-width="2.1" fill="none" />
<path d="M428.91,338.20 L453.20,323.72" stroke="#111" stroke-width="2.1" fill="none" />
<path d="M431.32,340.79 L455.59,326.30" stroke="#111" stroke-width="2.1" fill="none" />
<path d="M433.62,343.56 L457.88,329.06" stroke="#111" stroke-width="2.1" fill="none" />
<path d="M435.81,346.48 L460.05,331.98" stroke="#111" stroke-width="2.1" fill="none" />
<path d="M437.86,349.54 L462.09,335.03" stroke="#111" stroke-width="2.1" fill="none" />
<path d="M439.76,352.71 L463.98,338.19" stroke="#111" stroke-width="2.1" fill="none" />
<path d="M441.50,355.96 L465.71,341.44" stroke="#111" stroke-width="2.1" fill="none" />
<path d="M443.06,359.28 L467.26,344.76" stroke="#111" stroke-width="2.1" fill="none" />
<path d="M444.43,362.64 L468.62,348.11" stroke="#111" stroke-width="2.1" fill="none" />
<path d="M445.60,366.01 L469.78,351.48" stroke="#111" stroke-width="2.1" fill="none" />
<path d="M446.56,369.37 L470.74,354.83" stroke="#111" stroke-width="2.1" fill="none" />
<path d="M447.30,372.68 L471.48,358.14" stroke="#111" stroke-width="2.1" fill="none" />
<path d="M447.83,375.93 L472.00,361.39" stroke="#111" stroke-width="2.1" fill="none" />
<path d="M448.12,379.09 L472.30,364.55" stroke="#111" stroke-width="2.1" fill="none" />
<path d="M448.19,382.14 L472.36,367.60" stroke="#111" stroke-width="2.1" fill="none" />
<path d="M448.03,385.05 L472.20,370.51" stroke="#111" stroke-width="2.1" fill="none" />
<path d="M447.64,387.81 L471.82,373.27" stroke="#111" stroke-width="2.1" fill="none" />
<path d="M447.03,390.38 L471.21,375.84" stroke="#111" stroke-width="2.1" fill="none" />
<path d="M446.20,392.75 L470.38,378.22" stroke="#111" stroke-width="2.1" fill="none" />
<path d="M445.15,394.91 L469.34,380.38" stroke="#111" stroke-width="2.1" fill="none" />
<path d="M443.90,396.83 L468.10,382.30" stroke="#111" stroke-width="2.1" fill="none" />
<path d="M442.46,398.51 L466.66,383.98" stroke="#111" stroke-width="2.1" fill="none" />
<path d="M440.82,399.92 L465.04,385.40" stroke="#111" stroke-width="2.1" fill="none" />
<path d="M421.36,313.16 L421.74,312.95 L422.11,312.75 L422.50,312.57 L422.89,312.40 L423.29,312.23 L423.69,312.08 L424.10,311.94 L424.51,311.82 L424.93,311.70 L425.35,311.60 L425.78,311.50 L426.22,311.42 L426.66,311.35 L427.10,311.29 L427.55,311.25 L428.01,311.21 L428.46,311.19 L428.93,311.18 L429.39,311.18 L429.86,311.19 L430.34,311.22 L430.82,311.25 L431.30,311.30 L431.78,311.36 L432.27,311.43 L432.76,311.51 L433.26,311.61 L433.76,311.71 L434.26,311.83 L434.76,311.96 L435.26,312.10 L435.77,312.25 L436.28,312.42 L436.79,312.59 L437.30,312.78 L437.82,312.98 L438.33,313.19 L438.85,313.40 L439.37,313.64 L439.89,313.88 L440.41,314.13 L440.93,314.39 L441.45,314.67 L441.97,314.95 L442.49,315.25 L443.01,315.56 L443.53,315.87 L444.05,316.20 L444.58,316.54 L445.09,316.88 L445.61,317.24 L446.13,317.61 L446.65,317.99 L447.16,318.37 L447.68,318.77 L448.19,319.18 L448.70,319.59 L449.21,320.01 L449.72,320.45 L450.22,320.89 L450.73,321.34 L451.23,321.80 L451.72,322.27 L452.22,322.75 L452.71,323.23 L453.20,323.72 L453.68,324.22 L454.16,324.73 L454.64,325.25 L455.12,325.77 L455.59,326.30 L456.05,326.84 L456.52,327.39 L456.98,327.94 L457.43,328.50 L457.88,329.06 L458.32,329.63 L458.76,330.21 L459.20,330.79 L459.63,331.38 L460.05,331.98 L460.47,332.58 L460.89,333.18 L461.29,333.79 L461.70,334.41 L462.09,335.03 L462.48,335.65 L462.87,336.28 L463.25,336.92 L463.62,337.55 L463.98,338.19 L464.34,338.84 L464.69,339.48 L465.04,340.13 L465.38,340.79 L465.71,341.44 L466.03,342.10 L466.35,342.76 L466.66,343.43 L466.96,344.09 L467.26,344.76 L467.55,345.43 L467.83,346.10 L468.10,346.77 L468.37,347.44 L468.62,348.11 L468.87,348.78 L469.11,349.46 L469.34,350.13 L469.57,350.80 L469.78,351.48 L469.99,352.15 L470.19,352.82 L470.38,353.49 L470.57,354.16 L470.74,354.83 L470.91,355.49 L471.06,356.16 L471.21,356.82 L471.35,357.48 L471.48,358.14 L471.60,358.80 L471.72,359.45 L471.82,360.10 L471.91,360.75 L472.00,361.39 L472.08,362.03 L472.15,362.67 L472.20,363.30 L472.25,363.93 L472.30,364.55 L472.33,365.17 L472.35,365.79 L472.36,366.40 L472.37,367.00 L472.36,367.60 L472.35,368.19 L472.33,368.78 L472.30,369.36 L472.25,369.94 L472.20,370.51 L472.15,371.08 L472.08,371.63 L472.00,372.18 L471.91,372.73 L471.82,373.27 L471.72,373.80 L471.60,374.32 L471.48,374.83 L471.35,375.34 L471.21,375.84 L471.06,376.33 L470.91,376.82 L470.74,377.29 L470.57,377.76 L470.38,378.22 L470.19,378.67 L469.99,379.11 L469.78,379.54 L469.57,379.96 L469.34,380.38 L469.11,380.78 L468.87,381.18 L468.62,381.56 L468.37,381.94 L468.10,382.30 L467.83,382.66 L467.55,383.01 L467.26,383.34 L466.96,383.67 L466.66,383.98 L466.35,384.29 L466.03,384.58 L465.71,384.87 L465.38,385.14 L465.04,385.40 L464.69,385.65 L464.34,385.89 L463.98,386.12 L463.62,386.34" stroke="#1e1e1e" stroke-width="1.3" fill="none" />
<path d="M448.20,381.54 L448.15,383.33 L448.03,385.05 L447.83,386.73 L447.54,388.34 L447.17,389.88 L446.72,391.36 L446.20,392.75 L445.60,394.08 L444.92,395.31 L444.17,396.47 L443.35,397.53 L442.46,398.51 L441.50,399.39 L440.48,400.17 L439.39,400.86 L438.25,401.44 L437.05,401.92 L435.81,402.30 L434.51,402.58 L433.17,402.74 L431.78,402.81 L430.36,402.77 L428.91,402.62 L427.43,402.36 L425.92,402.01 L424.39,401.54 L422.84,400.98 L421.28,400.32 L419.71,399.55 L418.14,398.69 L416.57,397.73 L415.00,396.69 L413.44,395.55 L411.89,394.33 L410.36,393.02 L408.85,391.64 L407.37,390.18 L405.91,388.65 L404.49,387.05 L403.11,385.39 L401.77,383.67 L400.47,381.90 L399.22,380.08 L398.03,378.22 L396.89,376.31 L395.80,374.38 L394.78,372.42 L393.82,370.43 L392.93,368.43 L392.11,366.41 L391.36,364.39 L390.68,362.37 L390.08,360.35 L389.55,358.35 L389.11,356.36 L388.74,354.39 L388.45,352.45 L388.25,350.54 L388.12,348.67 L388.08,346.84 L388.12,345.06 L388.25,343.33 L388.45,341.65 L388.74,340.04 L389.11,338.50 L389.55,337.03 L390.08,335.63 L390.68,334.30 L391.36,333.07 L392.11,331.91 L392.93,330.85 L393.82,329.87 L394.78,328.99 L395.80,328.21 L396.89,327.52 L398.03,326.94 L399.22,326.46 L400.47,326.08 L401.77,325.80 L403.11,325.64 L404.49,325.57 L405.91,325.61 L407.37,325.76 L408.85,326.02 L410.36,326.37 L411.89,326.84 L413.44,327.40 L415.00,328.07 L416.57,328.83 L418.14,329.69 L419.71,330.65 L421.28,331.69 L422.84,332.83 L424.39,334.05 L425.92,335.36 L427.43,336.74 L428.91,338.20 L430.36,339.73 L431.78,341.33 L433.17,342.99 L434.51,344.71 L435.81,346.48 L437.05,348.30 L438.25,350.16 L439.39,352.07 L440.48,354.00 L441.50,355.96 L442.46,357.95 L443.35,359.95 L444.17,361.97 L444.92,363.99 L445.60,366.01 L446.20,368.03 L446.72,370.03 L447.17,372.02 L447.54,373.99 L447.83,375.93 L448.03,377.84 L448.15,379.71 Z" stroke="#1e1e1e" stroke-width="1.3" fill="#fff" />
<path d="M394.00,334.25 L394.76,333.26 L395.59,332.36 L396.47,331.54 L397.42,330.82 L398.43,330.18 L399.49,329.64 L400.60,329.19 L401.75,328.84 L402.96,328.59 L404.20,328.43 L405.48,328.37 L406.80,328.41 L408.15,328.55 L409.52,328.78 L410.92,329.11 L412.34,329.54 L413.78,330.07 L415.23,330.68 L416.68,331.39 L418.14,332.19 L419.60,333.08 L421.05,334.05 L422.50,335.10 L423.94,336.24 L425.35,337.45 L426.75,338.73 L428.13,340.08 L429.48,341.50 L430.80,342.99 L432.08,344.53 L433.32,346.12 L434.53,347.76 L435.68,349.45 L436.79,351.18 L437.85,352.94 L438.86,354.74 L439.80,356.56 L440.69,358.40 L441.52,360.26 L442.28,362.13 L442.98,364.00 L443.61,365.88 L444.17,367.75 L444.65,369.61 L445.07,371.46 L445.41,373.28 L445.67,375.08 L445.86,376.85 L445.98,378.59 L446.02,380.29 L445.98,381.94 L445.86,383.54 L445.67,385.09 L445.41,386.59 L445.07,388.02 L444.65,389.39 L444.17,390.68 L443.61,391.91 L442.98,393.06 L442.28,394.13 L441.52,395.12 L440.69,396.02 L439.80,396.84 L438.86,397.56 L437.85,398.20 L436.79,398.74 L435.68,399.19 L434.53,399.54 L433.32,399.79" stroke="#555" stroke-width="0.7" fill="none" />
<path d="M432.30,400.51 L430.99,400.57 L429.66,400.53 L428.29,400.39 L426.89,400.15 L425.47,399.81 L424.03,399.38 L422.57,398.85 L421.10,398.22 L419.62,397.50 L418.14,396.69 L416.66,395.79 L415.18,394.80 L413.71,393.73 L412.25,392.58 L410.81,391.35 L409.39,390.05 L407.99,388.67 L406.62,387.23 L405.29,385.73 L403.98,384.16 L402.72,382.54 L401.50,380.87 L400.32,379.16 L399.19,377.40 L398.12,375.61 L397.10,373.79 L396.14,371.94 L395.23,370.07 L394.39,368.18 L393.62,366.28 L392.91,364.38 L392.27,362.48 L391.71,360.58 L391.21,358.69 L390.79,356.81 L390.44,354.96 L390.17,353.13 L389.98,351.33 L389.86,349.57 L389.83,347.84 L389.86,346.16 L389.98,344.54 L390.17,342.96 L390.44,341.44 L390.79,339.99 L391.21,338.60 L391.71,337.28 L392.27,336.04 L392.91,334.87" stroke="#333" stroke-width="0.8" fill="none" />
<path d="M427.72,369.72 L427.69,370.66 L427.58,371.55 L427.40,372.38 L427.14,373.15 L426.82,373.85 L426.44,374.48 L425.99,375.03 L425.48,375.50 L424.92,375.88 L424.30,376.17 L423.64,376.37 L422.93,376.48 L422.19,376.50 L421.42,376.42 L420.62,376.25 L419.80,375.98 L418.97,375.63 L418.14,375.19 L417.30,374.67 L416.48,374.06 L415.66,373.38 L414.86,372.63 L414.09,371.82 L413.35,370.95 L412.64,370.03 L411.98,369.06 L411.36,368.06 L410.80,367.02 L410.29,365.97 L409.84,364.90 L409.45,363.82 L409.13,362.75 L408.88,361.69 L408.70,360.65 L408.59,359.64 L408.56,358.66 L408.59,357.72 L408.70,356.83 L408.88,356.00 L409.13,355.23 L409.45,354.53 L409.84,353.90 L410.29,353.35 L410.80,352.88 L411.36,352.50 L411.98,352.21 L412.64,352.01 L413.35,351.90 L414.09,351.88 L414.86,351.96 L415.66,352.13 L416.48,352.40 L417.30,352.75 L418.14,353.19 L418.97,353.71 L419.80,354.32 L420.62,355.00 L421.42,355.75 L422.19,356.56 L422.93,357.43 L423.64,358.35 L424.30,359.32 L424.92,360.32 L425.48,361.36 L425.99,362.41 L426.44,363.48 L426.82,364.56 L427.14,365.63 L427.40,366.69 L427.58,367.73 L427.69,368.74 Z" stroke="#1e1e1e" stroke-width="1.2" fill="#fff" />
<path d="M414.40,353.28 L414.78,352.80 L415.22,352.40 L415.71,352.07 L416.24,351.82 L416.81,351.64 L417.42,351.55 L418.06,351.54 L418.73,351.60 L419.42,351.75 L420.12,351.98 L420.84,352.28 L421.56,352.66 L422.28,353.12 L422.99,353.64 L423.70,354.22 L424.39,354.87 L425.05,355.57 L425.69,356.32 L426.30,357.12 L426.87,357.96 L427.40,358.82 L427.89,359.71 L428.33,360.63 L428.72,361.55 L429.05,362.48 L429.33,363.40 L429.54,364.32 L429.70,365.22 L429.80,366.09 L429.83,366.94 L429.80,367.75 L429.70,368.52 L429.54,369.23 L429.33,369.90 L429.05,370.51 L428.72,371.05 L428.33,371.52 L427.89,371.93 L427.40,372.26 L426.87,372.51 L426.30,372.68" stroke="#1e1e1e" stroke-width="0.9" fill="none" />
<path d="M574.06,149.72 L672.07,206.30 Q676.20,208.69 676.20,213.69 L676.20,333.69" stroke="#1e1e1e" stroke-width="1.2" fill="none" />
<path d="M582.72,144.71 L680.51,201.17 Q684.64,203.56 684.64,208.56 L684.64,328.56" stroke="#1e1e1e" stroke-width="1.2" fill="none" />
<path d="M572.82,149.00 L574.56,147.50 L581.48,143.00" stroke="#1e1e1e" stroke-width="1.1" fill="none" />
<path d="M676.20,333.69 L684.64,328.56" stroke="#1e1e1e" stroke-width="1.1" fill="none" />
<path d="M676.20,329.69 L684.64,324.56" stroke="#1e1e1e" stroke-width="0.8" fill="none" />
<path d="M582.9,145.2 L620.5,121.6" stroke="#1e1e1e" stroke-width="1.1" fill="none" />
<path d="M604.8,132.8 Q611,134 613,139 L621.4,154.6" stroke="#1e1e1e" stroke-width="1.1" fill="none" />
<path d="M624.9,126.6 Q632,131 631,139 Q630.5,142.5 629.3,143.5 L619.6,149.4" stroke="#1e1e1e" stroke-width="1.1" fill="none" />
<path d="M596.9,151.1 L613.5,140.6" stroke="#555" stroke-width="0.7" fill="none" />
<path d="M612.6,161.6 L633.6,148.5 L672.5,172 L651.5,184.5" stroke="#1e1e1e" stroke-width="1.1" fill="none" />
<path d="M675.6,200.6 L696.3,187.6 M705.6,185.6 L718.8,180" stroke="#1e1e1e" stroke-width="1.1" fill="none" />
<path d="M686,217.5 L720.6,198.8" stroke="#1e1e1e" stroke-width="1.1" fill="none" />
<path d="M696.3,187.6 Q700,186 701,190 Q704,200 700.5,212.5 M705.6,185.6 Q709,188 709.5,195 Q709,205 705.5,210.5" stroke="#1e1e1e" stroke-width="1.0" fill="none" />
<path d="M696,215.6 L707,233.5 V282 L687,292" stroke="#1e1e1e" stroke-width="1.1" fill="none" />
<path d="M687,244 L707,236" stroke="#1e1e1e" stroke-width="1.1" fill="none" />
<path d="M707,216 V233.5" stroke="#1e1e1e" stroke-width="0.9" fill="none" />
<path d="M686,292.5 L720.5,284.5 M686,310 L720.5,304" stroke="#1e1e1e" stroke-width="1.1" fill="none" />
<path d="M698,286 Q704,290 705.5,297 Q705,305 702,308.5" stroke="#1e1e1e" stroke-width="1.0" fill="none" />
<path d="M686,328 L704,317.5 L721,304.5" stroke="#1e1e1e" stroke-width="1.1" fill="none" />
<path d="M616.3,124.8 Q618,120.5 622,120.2 L626,121" stroke="#1e1e1e" stroke-width="1.1" fill="none" />
<path d="M616.3,124.8 L713,177 Q720.8,181.5 720.8,189 V300 Q721.5,305 724.5,305 Q728,305 728,300 V189 Q728,179 721,174.5 L626,121" stroke="#1e1e1e" stroke-width="1.1" fill="none" />
<path d="M629,121 L667.5,97.6 M630.5,137.5 L672.8,118.5" stroke="#1e1e1e" stroke-width="1.1" fill="none" />
<path d="M667.5,97.6 Q674,99 675.4,108 Q675,116 672.8,118.5" stroke="#1e1e1e" stroke-width="1.0" fill="none" />
<path d="M659.5,123 V139" stroke="#1e1e1e" stroke-width="1.0" fill="none" />
<path d="M688.5,155.3 Q693,149.5 700.8,150 Q714,151 721.8,171" stroke="#1e1e1e" stroke-width="1.1" fill="none" />
<path d="M672.5,172 L682.5,190" stroke="#1e1e1e" stroke-width="1.0" fill="none" />
<path d="M721.1,173.3 L757,153.1 M729,189 L764,168.9" stroke="#1e1e1e" stroke-width="1.1" fill="none" />
<path d="M757,152.3 Q766,154.5 766.6,162.8 Q766.3,167 764,168.9" stroke="#1e1e1e" stroke-width="1.1" fill="none" />
<path d="M729,206.5 L750,194.3 V230.5 L729,242.5" stroke="#1e1e1e" stroke-width="1.1" fill="none" />
<path d="M736,186.4 L746.9,179.4 V192.6 M736,186.4 L750,194.3" stroke="#1e1e1e" stroke-width="1.1" fill="none" />
<path d="M729,231.8 L750,243.1 M747.4,230.5 V241.4" stroke="#1e1e1e" stroke-width="1.1" fill="none" />
<path d="M729,255.4 L750.4,244.4 V269.4 L729,280.8" stroke="#1e1e1e" stroke-width="1.1" fill="none" />
<path d="M754.8,175 V244.5" stroke="#1e1e1e" stroke-width="1.1" fill="none" />
<path d="M660.5,99.3 Q661,94 667.5,93.1 L767.5,144.4 Q778.5,149 779.6,157 Q779.5,162 777.6,163.6" stroke="#1e1e1e" stroke-width="1.1" fill="none" />
<path d="M660.5,99.3 L758.8,149.6 Q768,152.5 769,161 L768.4,165.4" stroke="#1e1e1e" stroke-width="1.1" fill="none" />
<path d="M767.5,144.4 Q776,150 776.5,158" stroke="#666" stroke-width="0.8" fill="none" />
<path d="M768.4,165.4 L777.6,163.6 M769.3,165.4 V179.8 M777.6,163.6 V175 L769.3,179.8 L757.9,173.7" stroke="#1e1e1e" stroke-width="1.1" fill="none" />
<path d="M750.9,245.3 L768.4,254.5 L776.3,251.2 Q779.5,254 779.5,260 L778,273.8 L768.4,276.8 V258 L778,254.5" stroke="#1e1e1e" stroke-width="1.1" fill="none" />
<path d="M750.9,251 L768.4,260.6" stroke="#1e1e1e" stroke-width="1.0" fill="none" />
<path d="M751.8,262.4 Q760,262 762.3,265 Q766,270 765.8,273.8 Q765,278 762.3,279 L759.6,279.9" stroke="#1e1e1e" stroke-width="1.1" fill="none" />
<path d="M729,296.5 L759.6,279.9" stroke="#1e1e1e" stroke-width="1.1" fill="none" />
<path d="M762.3,279 L768.4,276.8" stroke="#1e1e1e" stroke-width="1.0" fill="none" />
</svg>
</body></html>
